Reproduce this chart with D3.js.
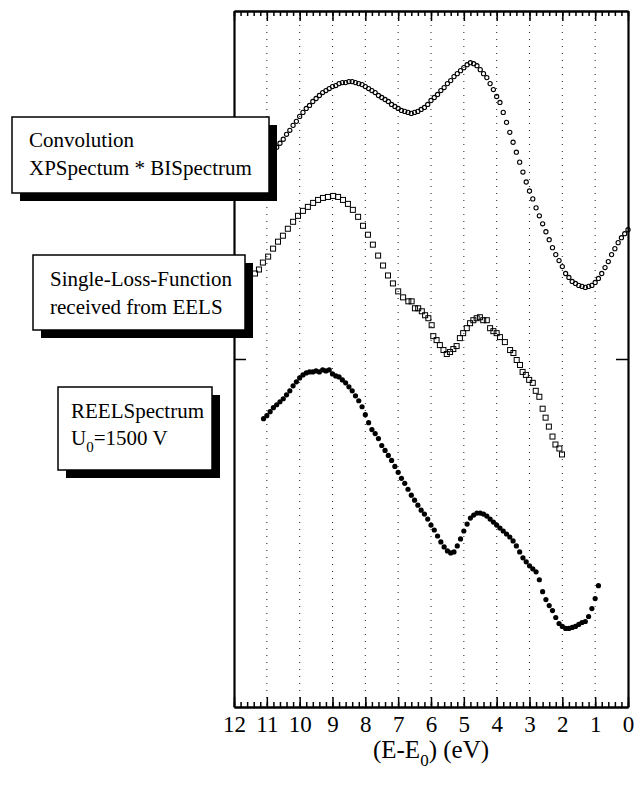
<!DOCTYPE html>
<html>
<head>
<meta charset="utf-8">
<script src="https://cdn.jsdelivr.net/npm/d3@7"></script>
<style>
  html, body { margin: 0; padding: 0; background: #fff; }
  svg { display: block; }
  text { font-family: "Liberation Serif", "Times New Roman", serif; fill: #000; }
</style>
</head>
<body>
<svg id="chart" width="634" height="787"></svg>
<script>
// Energy loss grid (eV) shared by the sampled spectra
const energyGrid = [
  11.1, 11.0, 10.9, 10.8, 10.7, 10.6, 10.5, 10.4, 10.3, 10.2, 10.1,
  10.0, 9.9, 9.8, 9.7, 9.6, 9.5, 9.4, 9.3, 9.2, 9.1,
  9.0, 8.9, 8.8, 8.7, 8.6, 8.5, 8.4, 8.3, 8.2, 8.1,
  8.0, 7.9, 7.8, 7.7, 7.6, 7.5, 7.4, 7.3, 7.2, 7.1,
  7.0, 6.9, 6.8, 6.7, 6.6, 6.5, 6.4, 6.3, 6.2, 6.1,
  6.0, 5.9, 5.8, 5.7, 5.6, 5.5, 5.4, 5.3, 5.2, 5.1,
  5.0, 4.9, 4.8, 4.7, 4.6, 4.5, 4.4, 4.3, 4.2, 4.1,
  4.0, 3.9, 3.8, 3.7, 3.6, 3.5, 3.4, 3.3, 3.2, 3.1,
  3.0, 2.9, 2.8, 2.7, 2.6, 2.5, 2.4, 2.3, 2.2, 2.1,
  2.0, 1.9, 1.8, 1.7, 1.6, 1.5, 1.4, 1.3, 1.2, 1.1,
  1.0, 0.9, 0.8, 0.7, 0.6, 0.5, 0.4, 0.3, 0.2, 0.1, 0.0
];

// Convolution XPS * BIS, 11.0 ... 0.0 eV (arb. units, stacked)
const convolution = [
  5.49, 5.54, 5.58, 5.63, 5.67, 5.71, 5.76, 5.80, 5.85, 5.89,
  5.94, 5.98, 6.02, 6.05, 6.09, 6.12, 6.15, 6.18, 6.20, 6.22,
  6.24, 6.25, 6.27, 6.28, 6.28, 6.29, 6.29, 6.28, 6.27, 6.26,
  6.24, 6.22, 6.20, 6.18, 6.15, 6.13, 6.11, 6.09, 6.06, 6.04,
  6.02, 6.00, 5.99, 5.98, 5.97, 5.98, 5.99, 6.01, 6.03, 6.06,
  6.10, 6.13, 6.16, 6.20, 6.23, 6.27, 6.30, 6.34, 6.37, 6.40,
  6.43, 6.46, 6.48, 6.47, 6.45, 6.41, 6.37, 6.33, 6.27, 6.21,
  6.14, 6.08, 5.98, 5.88, 5.78, 5.68, 5.58, 5.48, 5.38, 5.28,
  5.19, 5.11, 5.02, 4.94, 4.86, 4.78, 4.70, 4.62, 4.55, 4.49,
  4.43, 4.36, 4.32, 4.28, 4.26, 4.24, 4.23, 4.22, 4.23, 4.24,
  4.27, 4.31, 4.36, 4.42, 4.48, 4.55, 4.61, 4.67, 4.72, 4.76,
  4.80
];

// Single-loss function derived from EELS
const eelsEnergy = [
  11.36, 11.24, 11.12, 10.96, 10.81, 10.66, 10.51, 10.36, 10.20, 10.05,
  9.90, 9.75, 9.59, 9.44, 9.29, 9.14, 8.98, 8.83, 8.68, 8.53,
  8.38, 8.22, 8.07, 7.92, 7.77, 7.61, 7.46, 7.31, 7.16, 7.00,
  6.85, 6.69, 6.59, 6.49, 6.39, 6.28, 6.18, 6.08, 5.98, 5.93,
  5.83, 5.73, 5.62, 5.52, 5.42, 5.32, 5.22, 5.12, 5.02, 4.91,
  4.81, 4.71, 4.61, 4.51, 4.41, 4.30, 4.20, 4.10, 4.00, 3.90,
  3.75, 3.59, 3.49, 3.39, 3.29, 3.21, 3.11, 3.01, 2.90, 2.81,
  2.70, 2.60, 2.51, 2.41, 2.30, 2.21, 2.09, 2.01
];
const eelsValue = [
  4.36, 4.40, 4.47, 4.53, 4.61, 4.68, 4.74, 4.81, 4.88, 4.94,
  4.99, 5.03, 5.07, 5.10, 5.12, 5.13, 5.14, 5.13, 5.10, 5.06,
  5.00, 4.93, 4.84, 4.75, 4.65, 4.54, 4.44, 4.34, 4.26, 4.18,
  4.12, 4.08, 4.08, 4.01, 4.01, 3.98, 3.94, 3.91, 3.84, 3.73,
  3.69, 3.64, 3.59, 3.55, 3.57, 3.60, 3.63, 3.71, 3.76, 3.81,
  3.86, 3.89, 3.91, 3.92, 3.89, 3.89, 3.81, 3.78, 3.76, 3.72,
  3.67, 3.59, 3.56, 3.49, 3.44, 3.37, 3.34, 3.29, 3.26, 3.18,
  3.12, 3.00, 2.91, 2.82, 2.72, 2.64, 2.60, 2.54
];

// REELS spectrum, U0 = 1500 V, 11.1 ... 0.9 eV
const reels = [
  2.90, 2.93, 2.97, 3.01, 3.04, 3.07, 3.10, 3.14, 3.18, 3.23,
  3.27, 3.31, 3.34, 3.36, 3.37, 3.37, 3.38, 3.37, 3.39, 3.38,
  3.39, 3.35, 3.33, 3.32, 3.29, 3.26, 3.22, 3.18, 3.13, 3.08,
  3.02, 2.94, 2.86, 2.79, 2.75, 2.70, 2.63, 2.58, 2.53, 2.48,
  2.42, 2.36, 2.30, 2.25, 2.19, 2.13, 2.08, 2.03, 1.98, 1.94,
  1.89, 1.83, 1.78, 1.72, 1.66, 1.61, 1.57, 1.55, 1.56, 1.62,
  1.69, 1.77, 1.84, 1.90, 1.93, 1.95, 1.95, 1.94, 1.92, 1.89,
  1.86, 1.83, 1.80, 1.77, 1.74, 1.71, 1.67, 1.62, 1.56, 1.50,
  1.46, 1.42, 1.39, 1.36, 1.28, 1.16, 1.08, 1.02, 0.97, 0.90,
  0.84, 0.81, 0.79, 0.79, 0.80, 0.81, 0.83, 0.85, 0.86, 0.91,
  0.99, 1.09, 1.22
];

const xTicks = [12, 11, 10, 9, 8, 7, 6, 5, 4, 3, 2, 1, 0];
const gridTicks = [11, 10, 9, 8, 7, 6, 5, 4, 3, 2, 1];

const FONT = "Liberation Serif, Times New Roman, serif";
const svg = d3.select("#chart");
const plotLeft = 234, plotRight = 628, plotTop = 11, plotBottom = 707;

const x = d3.scaleLinear().domain([12, 0]).range([plotLeft, plotRight]);
const y = d3.scaleLinear().domain([0, 7]).range([plotBottom, plotTop]);

// vertical dotted grid
svg.append("g").selectAll("line").data(gridTicks).join("line")
  .attr("x1", d => x(d)).attr("x2", d => x(d))
  .attr("y1", plotTop).attr("y2", plotBottom)
  .attr("stroke", "#333").attr("stroke-width", 1.1)
  .attr("stroke-dasharray", "1.1,5.9");

// series
const convPts = energyGrid.slice(1).map((e, i) => [e, convolution[i]]);
const reelsPts = energyGrid.slice(0, reels.length).map((e, i) => [e, reels[i]]);
const eelsPts = eelsEnergy.map((e, i) => [e, eelsValue[i]]);

svg.append("g").selectAll("circle").data(convPts).join("circle")
  .attr("cx", d => x(d[0])).attr("cy", d => y(d[1])).attr("r", 2.1)
  .attr("fill", "none").attr("stroke", "#000").attr("stroke-width", 1.1);

svg.append("g").selectAll("rect").data(eelsPts).join("rect")
  .attr("x", d => x(d[0]) - 2.5).attr("y", d => y(d[1]) - 2.5)
  .attr("width", 5).attr("height", 5)
  .attr("fill", "none").attr("stroke", "#000").attr("stroke-width", 1);

svg.append("g").selectAll("circle").data(reelsPts).join("circle")
  .attr("cx", d => x(d[0])).attr("cy", d => y(d[1])).attr("r", 2.6)
  .attr("fill", "#000");

// axes
const minor = d3.range(0, 12.001, 0.2);
function styleAxis(g) {
  g.select(".domain").attr("stroke-width", 2.2);
  g.selectAll(".tick line").attr("stroke-width", 1.5);
}
svg.append("g").attr("transform", `translate(0,${plotBottom})`)
  .call(d3.axisBottom(x).tickValues(minor).tickSize(-5).tickSizeOuter(0).tickFormat(""))
  .call(styleAxis);
svg.append("g").attr("transform", `translate(0,${plotTop})`)
  .call(d3.axisTop(x).tickValues(minor).tickSize(-5).tickSizeOuter(0).tickFormat(""))
  .call(styleAxis);
const bottomAxis = svg.append("g").attr("transform", `translate(0,${plotBottom})`)
  .call(d3.axisBottom(x).tickValues(xTicks).tickSize(-10).tickSizeOuter(0).tickPadding(9).tickFormat(d3.format("d")))
  .call(styleAxis);
bottomAxis.attr("font-family", FONT).attr("font-size", 23);
bottomAxis.selectAll("text").attr("fill", "#000");
svg.append("g").attr("transform", `translate(0,${plotTop})`)
  .call(d3.axisTop(x).tickValues(xTicks).tickSize(-10).tickSizeOuter(0).tickFormat(""))
  .call(styleAxis);
svg.append("g").attr("transform", `translate(${plotLeft},0)`)
  .call(d3.axisLeft(y).tickValues([3.5]).tickSize(-12).tickSizeOuter(0).tickFormat(""))
  .call(styleAxis);
svg.append("g").attr("transform", `translate(${plotRight},0)`)
  .call(d3.axisRight(y).tickValues([3.5]).tickSize(-12).tickSizeOuter(0).tickFormat(""))
  .call(styleAxis);

// axis title
const title = svg.append("text").attr("x", (plotLeft + plotRight) / 2).attr("y", 758)
  .attr("text-anchor", "middle").attr("font-family", FONT).attr("font-size", 25);
title.append("tspan").text("(E-E");
title.append("tspan").attr("font-size", 17).attr("dy", 8).text("0");
title.append("tspan").attr("dy", -8).text(") (eV)");

// annotation boxes with drop shadows
const boxes = [
  { x: 12, y: 117, w: 257, h: 76, tx: 29, lines: [["Convolution"], ["XPSpectum * BISpectrum"]] },
  { x: 33, y: 255, w: 212, h: 75, tx: 50, lines: [["Single-Loss-Function"], ["received from EELS"]] },
  { x: 58, y: 387, w: 154, h: 83, tx: 71, lines: [["REELSpectrum"], ["U", "0", "=1500 V"]] }
];
const lineOffsets = [[30, 58], [31, 59], [31, 58]];
boxes.forEach((b, i) => {
  const g = svg.append("g");
  g.append("rect").attr("x", b.x + 8).attr("y", b.y + 8).attr("width", b.w).attr("height", b.h).attr("fill", "#000");
  g.append("rect").attr("x", b.x).attr("y", b.y).attr("width", b.w).attr("height", b.h)
    .attr("fill", "#fff").attr("stroke", "#000").attr("stroke-width", 1.5);
  b.lines.forEach((parts, j) => {
    const t = g.append("text").attr("x", b.tx).attr("y", b.y + lineOffsets[i][j])
      .attr("font-family", FONT).attr("font-size", 21);
    if (parts.length === 1) {
      t.text(parts[0]);
    } else {
      t.append("tspan").text(parts[0]);
      t.append("tspan").attr("font-size", 15).attr("dy", 7).text(parts[1]);
      t.append("tspan").attr("dy", -7).text(parts[2]);
    }
  });
});
</script>
</body>
</html>
